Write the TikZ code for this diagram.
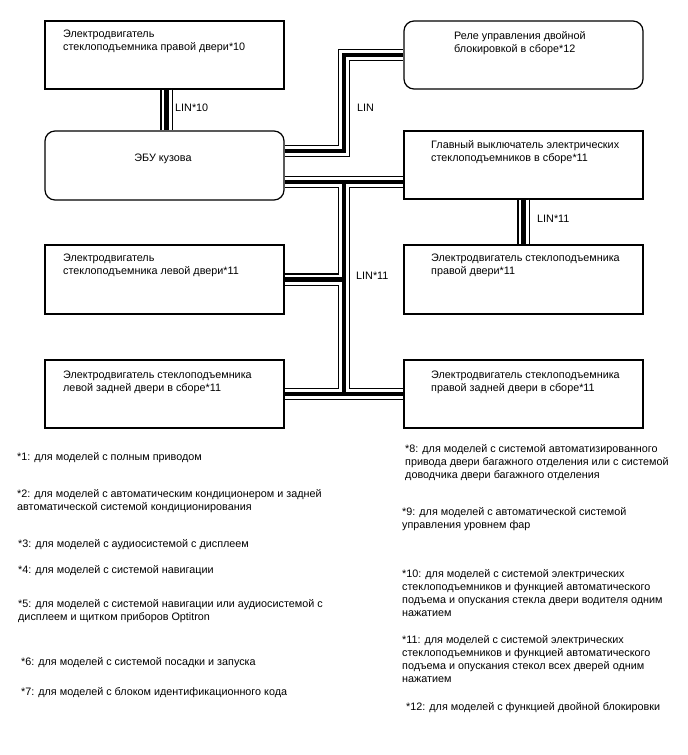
\documentclass[tikz,border=0pt]{standalone}
\usepackage{fontspec}
\setmainfont{Liberation Sans}
\begin{document}
\begin{tikzpicture}[x=1pt,y=-1pt,
  box/.style={draw, line width=1.2pt, minimum width=239pt, inner sep=0pt},
  rbox/.style={box, rounded corners=10pt},
  txt/.style={anchor=north west, align=left, inner sep=0pt, yshift=-1.5pt, font=\fontsize{10.8}{13.3}\selectfont},
  lbl/.style={anchor=west, inner sep=0pt, font=\fontsize{10.8}{13.3}\selectfont},
  cable/.style={line width=12.5pt, line join=miter,
    postaction={draw, white, line width=10pt, line join=miter},
    postaction={draw, black, line width=4.5pt, line join=miter}}
]
\useasboundingbox[fill=white] (0,0) rectangle (688,755);

% boxes
\node[box, minimum height=68pt] (b1) at (164.5,55) {};
\node[rbox, minimum height=68pt] (relay) at (523.5,55) {};
\node[rbox, minimum height=69pt] (ecu) at (164.5,165.5) {};
\node[box, minimum height=68pt] (main) at (523.5,165) {};
\node[box, minimum height=69pt] (ld) at (164.5,279.5) {};
\node[box, minimum height=69pt] (rd) at (523.5,279.5) {};
\node[box, minimum height=68pt] (lr) at (164.5,394) {};
\node[box, minimum height=68pt] (rr) at (523.5,394) {};

% box texts
\node[txt] (tb1) at (63,28.3) {Электродвигатель\\стеклоподъемника правой двери*10};
\node[txt] (trelay) at (454,29.3) {Реле управления двойной\\блокировкой в сборе*12};
\node[lbl, anchor=center] (tecu) at (163,158.5) {ЭБУ кузова};
\node[txt] (tmain) at (431,138.3) {Главный выключатель электрических\\стеклоподъемников в сборе*11};
\node[txt] (tld) at (63,252.3) {Электродвигатель\\стеклоподъемника левой двери*11};
\node[txt] (trd) at (431,252.3) {Электродвигатель стеклоподъемника\\правой двери*11};
\node[txt] (tlr) at (63,369.3) {Электродвигатель стеклоподъемника\\левой задней двери в сборе*11};
\node[txt] (trr) at (431,369.3) {Электродвигатель стеклоподъемника\\правой задней двери в сборе*11};

% cables
\coordinate (j) at (344,0);
\coordinate (e1) at ([yshift=14.5pt]ecu.east);
\coordinate (e2) at ([yshift=-16.5pt]ecu.east);
\draw[cable]
  ([xshift=2pt]b1.south) -- ([xshift=2pt]ecu.north)
  (e1) -| (j |- relay.west) -- (relay.west)
  (e2) -- (e2 -| main.west)
  (e2 -| j) -- (lr.east -| j)
  (ld.east) -- (ld.east -| j)
  (lr.east) -- (rr.west)
  (main.south) -- (rd.north);

% cable labels
\node[lbl] (l10) at (175,108) {LIN*10};
\node[lbl] (l1) at (357,108) {LIN};
\node[lbl] (l11a) at (537,219) {LIN*11};
\node[lbl] (l11b) at (356,276) {LIN*11};

% notes
\node[txt] (n1) at (17,450.3) {*1: для моделей с полным приводом};
\node[txt] (n2) at (17,487.3) {*2: для моделей с автоматическим кондиционером и задней\\автоматической системой кондиционирования};
\node[txt] (n3) at (18,537.3) {*3: для моделей с аудиосистемой с дисплеем};
\node[txt] (n4) at (18,563.3) {*4: для моделей с системой навигации};
\node[txt] (n5) at (18,597.3) {*5: для моделей с системой навигации или аудиосистемой с\\дисплеем и щитком приборов Optitron};
\node[txt] (n6) at (21,655.3) {*6: для моделей с системой посадки и запуска};
\node[txt] (n7) at (21,685.3) {*7: для моделей с блоком идентификационного кода};
\node[txt] (n8) at (405,442.3) {*8: для моделей с системой автоматизированного\\привода двери багажного отделения или с системой\\доводчика двери багажного отделения};
\node[txt] (n9) at (402,505.3) {*9: для моделей с автоматической системой\\управления уровнем фар};
\node[txt] (n10) at (402,567.3) {*10: для моделей с системой электрических\\стеклоподъемников и функцией автоматического\\подъема и опускания стекла двери водителя одним\\нажатием};
\node[txt] (n11) at (402,633.3) {*11: для моделей с системой электрических\\стеклоподъемников и функцией автоматического\\подъема и опускания стекол всех дверей одним\\нажатием};
\node[txt] (n12) at (406,700.3) {*12: для моделей с функцией двойной блокировки};
\end{tikzpicture}
\end{document}
